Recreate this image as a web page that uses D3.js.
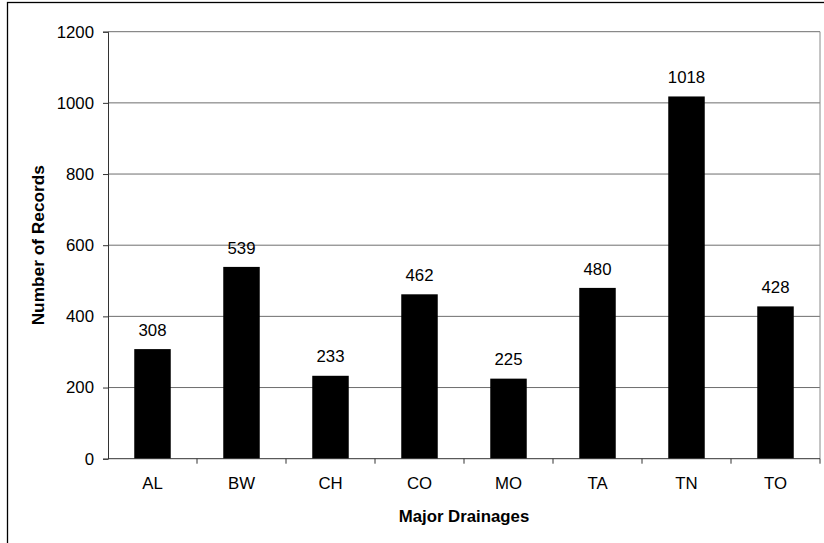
<!DOCTYPE html>
<html>
<head>
<meta charset="utf-8">
<script src="https://cdn.jsdelivr.net/npm/d3@7/dist/d3.min.js"></script>
<style>
  html, body { margin: 0; padding: 0; background: #fff; }
  svg { display: block; font-family: "Liberation Sans", Arial, sans-serif; }
</style>
</head>
<body>
<svg id="chart" width="824" height="543"></svg>
<script>
// Records per major drainage
const categories = ["AL", "BW", "CH", "CO", "MO", "TA", "TN", "TO"];
const records = [308, 539, 233, 462, 225, 480, 1018, 428];
const yTicks = [0, 200, 400, 600, 800, 1000, 1200];

const svg = d3.select("#chart");
const W = 824, H = 543;
const plot = { left: 108, right: 820, top: 31.7, bottom: 458.7 };
const labelSize = 16.8;

// outer frame
svg.append("rect")
  .attr("x", 7.5).attr("y", 2.5)
  .attr("width", W).attr("height", H)
  .attr("fill", "#fff").attr("stroke", "#000").attr("stroke-width", 1.3);

const x = d3.scaleBand()
  .domain(categories)
  .range([plot.left, plot.right])
  .paddingInner(0.59).paddingOuter(0.295);

const xTickScale = d3.scaleBand().domain(categories).range([plot.left, plot.right]);

const y = d3.scaleLinear().domain([0, 1200]).range([plot.bottom, plot.top]);

// gridlines
svg.append("g").selectAll("line")
  .data(yTicks.filter(d => d > 0))
  .join("line")
  .attr("x1", plot.left).attr("x2", plot.right)
  .attr("y1", d => y(d)).attr("y2", d => y(d))
  .attr("stroke", "#6e6e6e").attr("stroke-width", 1);

// plot frame right side
svg.append("line")
  .attr("x1", plot.right).attr("x2", plot.right)
  .attr("y1", plot.top).attr("y2", plot.bottom)
  .attr("stroke", "#8a8a8a").attr("stroke-width", 1);

// bars
svg.append("g").selectAll("rect")
  .data(categories)
  .join("rect")
  .attr("x", d => x(d))
  .attr("width", x.bandwidth())
  .attr("y", (d, i) => y(records[i]))
  .attr("height", (d, i) => plot.bottom - y(records[i]))
  .attr("fill", "#000");

// value labels
svg.append("g").selectAll("text")
  .data(categories)
  .join("text")
  .attr("x", d => x(d) + x.bandwidth() / 2)
  .attr("y", (d, i) => y(records[i]) - 13.3)
  .attr("text-anchor", "middle")
  .attr("font-size", labelSize)
  .attr("fill", "#000")
  .text((d, i) => records[i]);

// y axis
const yAxis = d3.axisLeft(y).tickValues(yTicks).tickSize(5).tickPadding(9).tickFormat(d3.format("d"));
const gy = svg.append("g").attr("transform", `translate(${plot.left},0)`).call(yAxis);
gy.select(".domain").attr("stroke", "#333");
gy.selectAll(".tick line").attr("stroke", "#333");
gy.selectAll(".tick text").attr("font-size", labelSize).attr("font-family", "Liberation Sans, Arial, sans-serif").attr("fill", "#000");

// x axis: ticks between categories
const gx = svg.append("g").attr("transform", `translate(0,${plot.bottom})`);
gx.append("line")
  .attr("x1", plot.left).attr("x2", plot.right)
  .attr("stroke", "#333");
const boundaries = categories.map(c => xTickScale(c)).concat([plot.right]);
gx.selectAll("line.tk")
  .data(boundaries.slice(1))
  .join("line").attr("class", "tk")
  .attr("x1", d => d).attr("x2", d => d)
  .attr("y1", 0).attr("y2", 5)
  .attr("stroke", "#333");
gx.selectAll("text")
  .data(categories)
  .join("text")
  .attr("x", d => xTickScale(d) + xTickScale.bandwidth() / 2)
  .attr("y", 30.8)
  .attr("text-anchor", "middle")
  .attr("font-size", labelSize)
  .attr("fill", "#000")
  .text(d => d);

// axis titles
svg.append("text")
  .attr("x", (plot.left + plot.right) / 2)
  .attr("y", 522)
  .attr("text-anchor", "middle")
  .attr("font-size", 16.8)
  .attr("font-weight", "bold")
  .text("Major Drainages");

svg.append("text")
  .attr("transform", `translate(44,${(plot.top + plot.bottom) / 2}) rotate(-90)`)
  .attr("text-anchor", "middle")
  .attr("font-size", 17.3)
  .attr("font-weight", "bold")
  .text("Number of Records");
</script>
</body>
</html>
